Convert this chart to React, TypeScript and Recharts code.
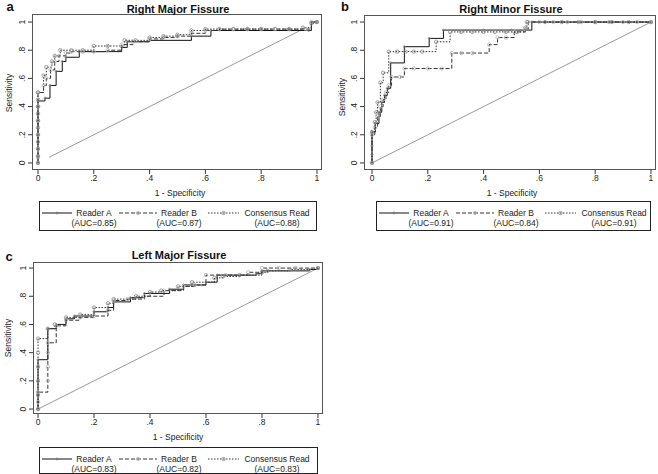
import React from 'react';
import { LineChart, Line, XAxis, YAxis } from 'recharts';

type Pt = [number, number];

// (a) Right Major Fissure — [1 - specificity, sensitivity]
const rmajReaderA: Pt[] = [[0, 0], [0, 0.05], [0, 0.1], [0, 0.2], [0, 0.3], [0, 0.44], [0.025, 0.46], [0.043, 0.55], [0.065, 0.65], [0.087, 0.72], [0.1, 0.75], [0.148, 0.79], [0.2, 0.79], [0.3, 0.82], [0.32, 0.86], [0.4, 0.87], [0.55, 0.9], [0.62, 0.94], [0.97, 0.94], [0.98, 1], [1, 1]];
const rmajReaderB: Pt[] = [[0, 0], [0, 0.04], [0, 0.1], [0, 0.2], [0, 0.3], [0, 0.4], [0, 0.5], [0.02, 0.55], [0.03, 0.6], [0.045, 0.66], [0.06, 0.72], [0.075, 0.76], [0.1, 0.78], [0.12, 0.79], [0.16, 0.79], [0.2, 0.79], [0.25, 0.8], [0.3, 0.84], [0.34, 0.86], [0.4, 0.88], [0.45, 0.89], [0.5, 0.9], [0.55, 0.92], [0.6, 0.94], [0.65, 0.95], [0.7, 0.95], [0.75, 0.95], [0.8, 0.95], [0.85, 0.95], [0.9, 0.95], [0.96, 0.95], [0.98, 1], [1, 1]];
const rmajConsensus: Pt[] = [[0, 0], [0, 0.05], [0, 0.1], [0, 0.15], [0, 0.2], [0, 0.25], [0, 0.3], [0, 0.35], [0, 0.4], [0, 0.45], [0, 0.5], [0.02, 0.62], [0.03, 0.68], [0.05, 0.72], [0.06, 0.76], [0.08, 0.8], [0.12, 0.8], [0.16, 0.8], [0.2, 0.83], [0.25, 0.83], [0.31, 0.87], [0.35, 0.87], [0.4, 0.89], [0.45, 0.9], [0.5, 0.91], [0.55, 0.94], [0.6, 0.95], [0.65, 0.95], [0.7, 0.95], [0.75, 0.95], [0.8, 0.95], [0.85, 0.95], [0.9, 0.95], [0.95, 0.96], [0.98, 0.99], [1, 1]];
const rmajChance: Pt[] = [[0.04, 0.04], [0.96, 0.96]];
const rmajAuc = ['0.85', '0.87', '0.88'];

// (b) Right Minor Fissure
const rminReaderA: Pt[] = [[0, 0], [0, 0.06], [0, 0.12], [0, 0.22], [0.012, 0.28], [0.025, 0.36], [0.035, 0.43], [0.045, 0.48], [0.055, 0.53], [0.067, 0.71], [0.116, 0.825], [0.205, 0.884], [0.256, 0.943], [0.4, 0.943], [0.5, 0.943], [0.573, 1], [0.7, 1], [0.85, 1], [1, 1]];
const rminReaderB: Pt[] = [[0, 0], [0, 0.2], [0.01, 0.25], [0.02, 0.33], [0.03, 0.4], [0.04, 0.45], [0.05, 0.5], [0.06, 0.55], [0.07, 0.61], [0.1, 0.61], [0.116, 0.67], [0.15, 0.67], [0.2, 0.67], [0.25, 0.67], [0.286, 0.78], [0.32, 0.78], [0.36, 0.78], [0.42, 0.84], [0.45, 0.89], [0.48, 0.89], [0.51, 0.93], [0.55, 0.95], [0.56, 1], [0.6, 1], [0.65, 1], [0.7, 1], [0.75, 1], [0.8, 1], [0.85, 1], [0.9, 1], [0.95, 1], [1, 1]];
const rminConsensus: Pt[] = [[0, 0], [0, 0.22], [0.01, 0.29], [0.015, 0.36], [0.02, 0.43], [0.03, 0.57], [0.04, 0.64], [0.06, 0.79], [0.09, 0.79], [0.12, 0.79], [0.15, 0.79], [0.18, 0.79], [0.23, 0.86], [0.28, 0.93], [0.32, 0.93], [0.36, 0.93], [0.4, 0.93], [0.44, 0.93], [0.48, 0.93], [0.52, 0.93], [0.55, 0.96], [0.555, 1], [0.62, 1], [0.68, 1], [0.74, 1], [0.8, 1], [0.86, 1], [0.92, 1], [1, 1]];
const rminChance: Pt[] = [[0, 0], [1, 1]];
const rminAuc = ['0.91', '0.84', '0.91'];

// (c) Left Major Fissure
const lmajReaderA: Pt[] = [[0, 0], [0, 0.12], [0, 0.35], [0.035, 0.57], [0.065, 0.6], [0.1, 0.64], [0.13, 0.66], [0.2, 0.69], [0.25, 0.72], [0.27, 0.76], [0.33, 0.79], [0.38, 0.82], [0.47, 0.85], [0.52, 0.88], [0.6, 0.9], [0.64, 0.95], [0.78, 0.96], [0.8, 0.98], [0.97, 0.99], [1, 1]];
const lmajReaderB: Pt[] = [[0, 0], [0, 0.05], [0, 0.12], [0.035, 0.2], [0.035, 0.3], [0.035, 0.4], [0.035, 0.47], [0.065, 0.59], [0.1, 0.63], [0.15, 0.65], [0.2, 0.66], [0.25, 0.7], [0.27, 0.77], [0.32, 0.78], [0.38, 0.8], [0.45, 0.84], [0.52, 0.87], [0.56, 0.88], [0.6, 0.95], [0.67, 0.95], [0.75, 0.97], [0.8, 1], [0.86, 1], [0.92, 1], [1, 1]];
const lmajConsensus: Pt[] = [[0, 0], [0, 0.1], [0, 0.2], [0, 0.3], [0, 0.4], [0, 0.5], [0.035, 0.57], [0.06, 0.6], [0.1, 0.65], [0.15, 0.67], [0.2, 0.72], [0.25, 0.75], [0.27, 0.78], [0.35, 0.8], [0.4, 0.83], [0.44, 0.84], [0.5, 0.87], [0.55, 0.9], [0.63, 0.93], [0.66, 0.94], [0.72, 0.95], [0.8, 0.97], [0.82, 0.98], [0.9, 0.99], [1, 1]];
const lmajChance: Pt[] = [[0, 0], [1, 1]];
const lmajAuc = ['0.83', '0.82', '0.83'];

const readers = ['Reader A', 'Reader B', 'Consensus Read'];
const xTicks = [0, 0.2, 0.4, 0.6, 0.8, 1];
const yTicks = [0, 0.2, 0.4, 0.6, 0.8, 1];

const FONT = '"Liberation Sans", Arial, Helvetica, sans-serif';
const lineStyles = [
  { stroke: '#111', dash: undefined as string | undefined, mark: '#777', r: 1 },
  { stroke: '#333', dash: '4 2', mark: '#b0b0b0', r: 1.7 },
  { stroke: '#333', dash: '1.5 1.5', mark: '#888', r: 1.7 },
];

const tickText = (v: number) => (v === 0 ? '0' : v === 1 ? '1' : String(v).replace(/^0/, ''));
const toRows = (pts: Pt[]) => pts.map(([x, y]) => ({ x, y }));

const YTick = (props: any) => {
  const { x, y, payload } = props;
  return (
    <text x={x} y={y} transform={`rotate(-90 ${x} ${y})`} textAnchor="middle" fontSize={8.5} fill="#222" fontFamily={FONT}>
      {tickText(payload.value)}
    </text>
  );
};

const makeDot = (color: string, r: number) => (p: any) => (
  <circle key={`d-${p.index}`} cx={p.cx} cy={p.cy} r={r} fill="none" stroke={color} strokeWidth={0.8} />
);

interface PanelProps {
  left: number;
  top: number;
  w: number;
  h: number;
  margin: { top: number; right: number; left: number; bottom: number };
  xDom: [number, number];
  yDom: [number, number];
  series: Pt[][];
  chance: Pt[];
}

const Y_W = 30;
const X_H = 30;

const Panel: React.FC<PanelProps> = ({ left, top, w, h, margin, xDom, yDom, series, chance }) => {
  const plotW = w - margin.left - margin.right - Y_W;
  const plotH = h - margin.top - X_H;
  return (
    <>
      <div style={{ position: 'absolute', left, top }}>
        <LineChart width={w} height={h} margin={margin}>
          <XAxis
            dataKey="x"
            type="number"
            domain={xDom}
            ticks={xTicks}
            allowDataOverflow
            height={X_H}
            axisLine={false}
            tickLine={{ stroke: '#333' }}
            tickSize={4}
            tickMargin={1}
            tickFormatter={tickText}
            tick={{ fontSize: 8.5, fill: '#222', fontFamily: FONT }}
          />
          <YAxis
            dataKey="y"
            type="number"
            domain={yDom}
            ticks={yTicks}
            allowDataOverflow
            width={Y_W}
            axisLine={false}
            tickLine={{ stroke: '#333' }}
            tickSize={4}
            tickMargin={3}
            tick={<YTick />}
          />
          <Line data={toRows(chance)} dataKey="y" type="linear" stroke="#9a9a9a" strokeWidth={1} dot={false} isAnimationActive={false} />
          {series.map((s, i) => (
            <Line
              key={i}
              data={toRows(s)}
              dataKey="y"
              type="stepAfter"
              stroke={lineStyles[i].stroke}
              strokeDasharray={lineStyles[i].dash}
              strokeWidth={1}
              dot={makeDot(lineStyles[i].mark, lineStyles[i].r)}
              isAnimationActive={false}
            />
          ))}
        </LineChart>
      </div>
      <div
        style={{
          position: 'absolute',
          left: left + margin.left + Y_W,
          top: top + margin.top,
          width: plotW,
          height: plotH,
          border: '1px solid #555',
          boxSizing: 'border-box',
          pointerEvents: 'none',
        }}
      />
    </>
  );
};

const Legend: React.FC<{ x: number; y: number; w: number; h: number; auc: string[] }> = ({ x, y, w, h, auc }) => {
  const samples = [[3, 33], [80, 118], [169, 200]];
  const centers = [55, 140, 238];
  return (
    <g>
      <rect x={x + 0.5} y={y + 0.5} width={w} height={h} fill="none" stroke="#222" strokeWidth={1} />
      {readers.map((name, i) => {
        const [a, b] = samples[i];
        return (
          <g key={name}>
            <line x1={x + a} x2={x + b} y1={y + 12} y2={y + 12} stroke={lineStyles[i].stroke} strokeDasharray={lineStyles[i].dash} />
            <circle cx={x + (a + b) / 2} cy={y + 12} r={lineStyles[i].r} fill="none" stroke={lineStyles[i].mark} strokeWidth={0.8} />
            <text x={x + centers[i]} y={y + 15} textAnchor="middle" fontSize={8.5} fill="#222">{name}</text>
            <text x={x + centers[i]} y={y + 25} textAnchor="middle" fontSize={8.5} fill="#222">{`(AUC=${auc[i]})`}</text>
          </g>
        );
      })}
    </g>
  );
};

export default function App() {
  return (
    <div style={{ position: 'absolute', left: 0, top: 0, width: 658, height: 474, background: '#fff', fontFamily: FONT }}>
      <Panel
        left={0}
        top={0}
        w={328}
        h={200}
        margin={{ top: 14, right: 6, left: 2, bottom: 0 }}
        xDom={[-0.0215, 1.018]}
        yDom={[-0.05, 1.057]}
        series={[rmajReaderA, rmajReaderB, rmajConsensus]}
        chance={rmajChance}
      />
      <Panel
        left={328}
        top={0}
        w={330}
        h={200}
        margin={{ top: 15, right: 2, left: 6, bottom: 0 }}
        xDom={[-0.0287, 1.018]}
        yDom={[-0.05, 1.05]}
        series={[rminReaderA, rminReaderB, rminConsensus]}
        chance={rminChance}
      />
      <Panel
        left={0}
        top={230}
        w={328}
        h={214}
        margin={{ top: 32, right: 5, left: 3, bottom: 0 }}
        xDom={[-0.018, 1.018]}
        yDom={[-0.035, 1.043]}
        series={[lmajReaderA, lmajReaderB, lmajConsensus]}
        chance={lmajChance}
      />
      <svg width={658} height={474} style={{ position: 'absolute', left: 0, top: 0, pointerEvents: 'none' }} fontFamily={FONT}>
        <text x={10} y={11} textAnchor="middle" fontSize={13} fontWeight="bold" fill="#111">a</text>
        <text x={345} y={11} textAnchor="middle" fontSize={13} fontWeight="bold" fill="#111">b</text>
        <text x={9} y={261} textAnchor="middle" fontSize={13} fontWeight="bold" fill="#111">c</text>

        <text x={178} y={13} textAnchor="middle" fontSize={11} fontWeight="bold" fill="#111">Right Major Fissure</text>
        <text x={511} y={13} textAnchor="middle" fontSize={11} fontWeight="bold" fill="#111">Right Minor Fissure</text>
        <text x={179} y={259} textAnchor="middle" fontSize={11} fontWeight="bold" fill="#111">Left Major Fissure</text>

        <text x={180} y={196} textAnchor="middle" fontSize={8.5} fill="#222">1 - Specificity</text>
        <text x={512} y={196} textAnchor="middle" fontSize={8.5} fill="#222">1 - Specificity</text>
        <text x={178} y={440} textAnchor="middle" fontSize={8.5} fill="#222">1 - Specificity</text>

        <text x={12} y={93} transform="rotate(-90 12 93)" textAnchor="middle" fontSize={8.5} fill="#222">Sensitivity</text>
        <text x={345} y={97} transform="rotate(-90 345 97)" textAnchor="middle" fontSize={8.5} fill="#222">Sensitivity</text>
        <text x={11} y={338} transform="rotate(-90 11 338)" textAnchor="middle" fontSize={8.5} fill="#222">Sensitivity</text>

        <Legend x={39} y={201} w={277} h={29} auc={rmajAuc} />
        <Legend x={376} y={201} w={274} h={29} auc={rminAuc} />
        <Legend x={39} y={447} w={278} h={26} auc={lmajAuc} />
      </svg>
    </div>
  );
}
